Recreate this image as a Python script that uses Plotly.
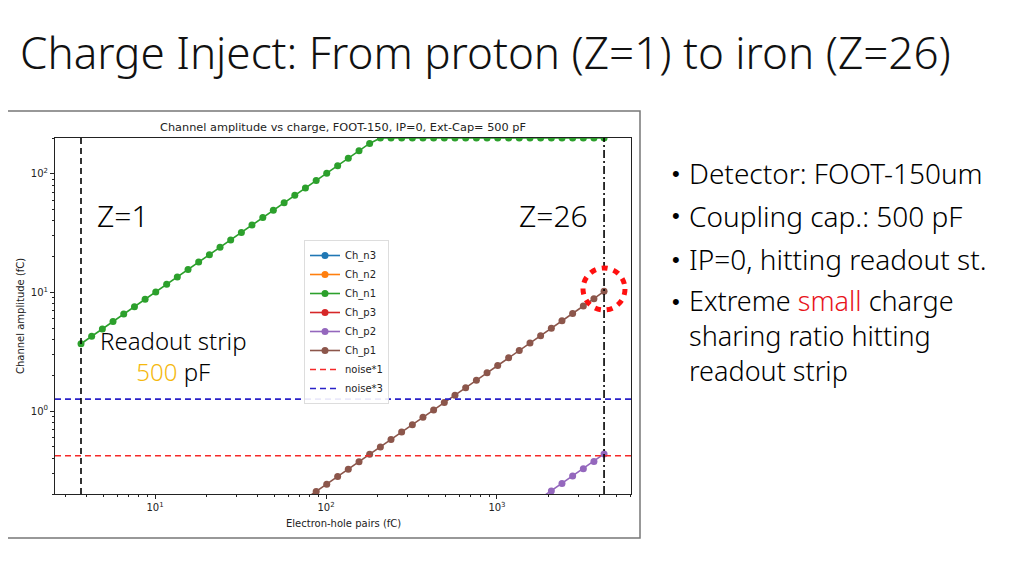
import math
import plotly.graph_objects as go

# The page body has an 8px margin, so the figure is 1016x568 placed at (8, 8).
OFF = 8
W, H = 1024 - OFF, 576 - OFF

# ---- data ----
charge = [3.69, 4.26, 4.92, 5.68, 6.56, 7.58, 8.75, 10.1, 11.7, 13.5,
          15.6, 18.0, 20.8, 24.0, 27.7, 32.0, 36.9, 42.7, 49.2, 56.9,
          65.7, 75.8, 87.6, 101, 117, 135, 156, 180, 208, 240,
          277, 320, 369, 426, 492, 568, 656, 758, 875, 1010,
          1170, 1350, 1560, 1800, 2080, 2400, 2770, 3200, 3690, 4230]
ch_n1 = [3.69, 4.26, 4.92, 5.68, 6.56, 7.58, 8.75, 10.1, 11.7, 13.5,
         15.6, 18.0, 20.8, 24.0, 27.7, 32.0, 36.9, 42.7, 49.2, 56.9,
         65.7, 75.8, 87.6, 101, 117, 135, 156, 180, 200, 200,
         200, 200, 200, 200, 200, 200, 200, 200, 200, 200,
         200, 200, 200, 200, 200, 200, 200, 200, 200, 200]
ch_p1 = [0.00886, 0.0102, 0.0118, 0.0136, 0.0157, 0.0182, 0.0210, 0.0242, 0.0281, 0.0324,
         0.0374, 0.0432, 0.0499, 0.0576, 0.0665, 0.0768, 0.0886, 0.102, 0.118, 0.137,
         0.158, 0.182, 0.210, 0.242, 0.281, 0.324, 0.374, 0.432, 0.499, 0.576,
         0.665, 0.768, 0.886, 1.02, 1.18, 1.36, 1.57, 1.82, 2.10, 2.42,
         2.81, 3.24, 3.74, 4.32, 4.99, 5.76, 6.65, 7.68, 8.86, 10.2]
ch_p2 = [0.000376, 0.000435, 0.000502, 0.000579, 0.000669, 0.000773, 0.000893, 0.00103, 0.00119, 0.00138,
         0.00159, 0.00184, 0.00212, 0.00245, 0.00283, 0.00326, 0.00376, 0.00435, 0.00502, 0.00580,
         0.00670, 0.00773, 0.00894, 0.0103, 0.0119, 0.0138, 0.0159, 0.0184, 0.0212, 0.0245,
         0.0283, 0.0326, 0.0376, 0.0435, 0.0502, 0.0579, 0.0669, 0.0773, 0.0893, 0.103,
         0.119, 0.138, 0.159, 0.184, 0.212, 0.245, 0.283, 0.326, 0.376, 0.435]
noise = 0.42
noise3 = 1.26
z1_charge = 3.69
z26_charge = 4230
x_limits = [2.6, 6080]
y_limits = [0.2, 200]
x_ticks = [10, 100, 1000]
x_ticklabels = ["10<sup>1</sup>", "10<sup>2</sup>", "10<sup>3</sup>"]
y_ticks = [1, 10, 100]
y_ticklabels = ["10<sup>0</sup>", "10<sup>1</sup>", "10<sup>2</sup>"]
x_minor = [3, 4, 5, 6, 7, 8, 9, 20, 30, 40, 50, 60, 70, 80, 90,
           200, 300, 400, 500, 600, 700, 800, 900, 2000, 3000, 4000, 5000, 6000]
y_minor = [0.2, 0.3, 0.4, 0.5, 0.6, 0.7, 0.8, 0.9, 2, 3, 4, 5, 6, 7, 8, 9,
           20, 30, 40, 50, 60, 70, 80, 90, 200]


# ---- pixel helpers: page pixel -> paper fraction (margins are zero) ----
def px(x):
    return (x - OFF) / W


def py(y):
    return 1 - (y - OFF) / H


PL, PR, PT, PB = 55, 631, 138, 494
FONT_MPL = "DejaVu Sans"
FONT_SLIDE = "Noto Sans"

fig = go.Figure()


def ch_trace(name, color, y):
    fig.add_trace(go.Scatter(
        x=charge if y is not None else [None], y=y if y is not None else [None],
        mode="lines+markers", name=name,
        line=dict(color=color, width=1.6),
        marker=dict(color=color, size=7),
    ))


ch_trace("Ch_n3", "#1f77b4", None)
ch_trace("Ch_n2", "#ff7f0e", None)
ch_trace("Ch_n1", "#2ca02c", ch_n1)
ch_trace("Ch_p3", "#d62728", None)
ch_trace("Ch_p2", "#9467bd", ch_p2)
ch_trace("Ch_p1", "#8c564b", ch_p1)

fig.add_trace(go.Scatter(x=x_limits, y=[noise, noise], mode="lines", name="noise*1",
                         line=dict(color="#f52a2a", width=1.6, dash="6px,4px")))
fig.add_trace(go.Scatter(x=x_limits, y=[noise3, noise3], mode="lines", name="noise*3",
                         line=dict(color="#2a22c8", width=1.6, dash="6px,4px")))

fig.add_trace(go.Scatter(x=[z1_charge, z1_charge], y=y_limits, mode="lines", showlegend=False,
                         line=dict(color="black", width=1.6, dash="6px,4px")))
fig.add_trace(go.Scatter(x=[z26_charge, z26_charge], y=y_limits, mode="lines", showlegend=False,
                         line=dict(color="black", width=1.6, dash="8px,3px,2px,3px")))

axis_common = dict(
    type="log", showgrid=False, zeroline=False,
    showline=True, linecolor="#222", linewidth=1, mirror=True,
    ticks="outside", ticklen=4, tickcolor="#222", tickwidth=1,
    tickfont=dict(family=FONT_MPL, size=10, color="#222"),
)
fig.update_layout(
    width=W, height=H,
    margin=dict(l=0, r=0, t=0, b=0),
    paper_bgcolor="white", plot_bgcolor="white",
    xaxis=dict(axis_common,
               domain=[px(PL), px(PR)],
               range=[math.log10(x_limits[0]), math.log10(x_limits[1])],
               tickvals=x_ticks, ticktext=x_ticklabels,
               minor=dict(tickvals=x_minor, ticks="outside", ticklen=2, tickcolor="#222")),
    yaxis=dict(axis_common,
               domain=[py(PB), py(PT)],
               range=[math.log10(y_limits[0]), math.log10(y_limits[1])],
               tickvals=y_ticks, ticktext=y_ticklabels,
               minor=dict(tickvals=y_minor, ticks="outside", ticklen=2, tickcolor="#222")),
    legend=dict(x=px(304), y=py(240), xanchor="left", yanchor="top",
                bgcolor="rgba(255,255,255,0.9)", bordercolor="#dddddd", borderwidth=1,
                font=dict(family=FONT_MPL, size=10, color="#222"),
                tracegroupgap=0, itemwidth=30),
    showlegend=True,
)

ann = []


def text(x, y, s, size, color="black", family=FONT_SLIDE, xanchor="left", align="left",
         angle=0, weight=None):
    f = dict(family=family, size=size, color=color)
    if weight:
        f["weight"] = weight
    ann.append(dict(x=px(x), y=py(y), xref="paper", yref="paper", text=s, showarrow=False,
                    xanchor=xanchor, yanchor="middle", align=align, textangle=angle, font=f))


# slide title
text(18, 52, "Charge Inject: From proton (Z=1) to iron (Z=26)", 44, color="#111", weight=300)
# chart title and axis titles
text(343, 127, "Channel amplitude vs charge, FOOT-150, IP=0, Ext-Cap= 500 pF", 11.3,
     color="#222", family=FONT_MPL, xanchor="center", align="center")
text(343, 523, "Electron-hole pairs (fC)", 10, color="#222", family=FONT_MPL,
     xanchor="center", align="center")
text(20, 316, "Channel amplitude (fC)", 10, color="#222", family=FONT_MPL,
     xanchor="center", align="center", angle=-90)
# labels inside the chart
text(95, 216, "Z=1", 30, weight=300)
text(517, 216, "Z=26", 30, weight=300)
text(173, 356, "Readout strip<br><span style='color:#f5b80e'>500</span> pF", 24,
     xanchor="center", align="center", weight=300)
# bullets (bullet glyph in a separate annotation, kept clear of the text)
bul = [(173, "Detector: FOOT-150um"), (216, "Coupling cap.: 500 pF"),
       (259, "IP=0, hitting readout st.")]
for yy, s in bul:
    text(670, yy, "•", 22, family="Liberation Sans")
    text(687, yy, s, 28, weight=300)
text(670, 301, "•", 22, family="Liberation Sans")
text(687, 335, "Extreme <span style='color:#e8141b'>small</span> charge<br>"
               "sharing ratio hitting<br>readout strip", 27, weight=300)
fig.update_layout(annotations=ann)

# image frame and highlight circle
fig.add_shape(type="rect", xref="paper", yref="paper", x0=px(-3), x1=px(640), y0=py(538), y1=py(111),
              line=dict(color="#777", width=1.5), layer="below")
fig.add_shape(type="circle", xref="paper", yref="paper", x0=px(583), x1=px(625), y0=py(310), y1=py(268),
              line=dict(color="#ff1010", width=5, dash="6px,6px"))

fig.write_html("out.html")
